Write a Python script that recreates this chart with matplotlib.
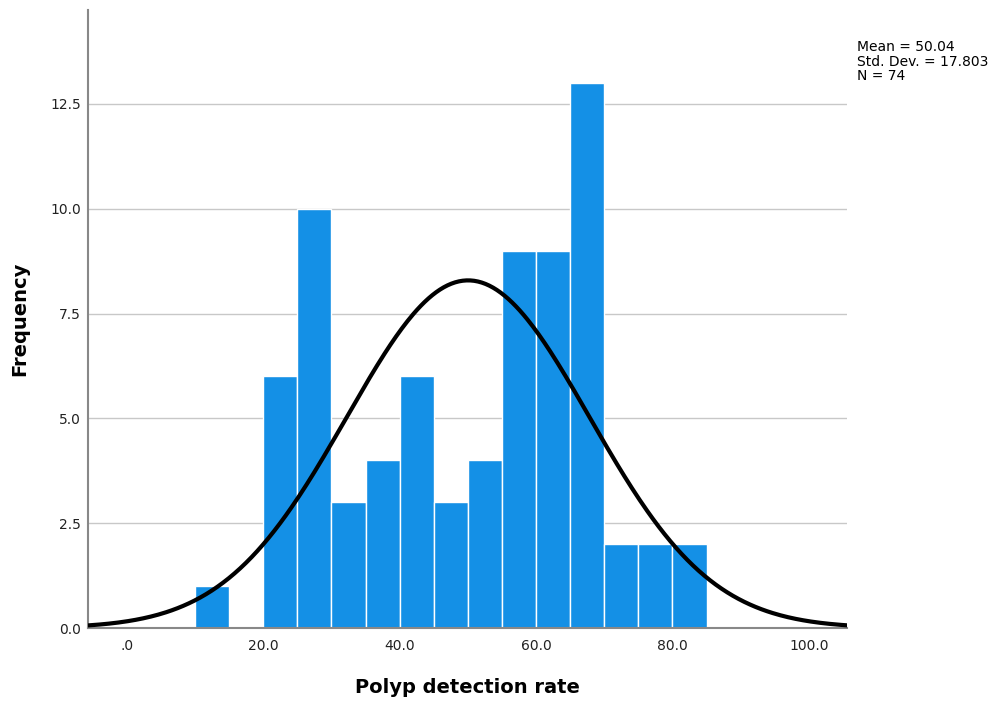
import matplotlib
matplotlib.use('Agg')
import matplotlib.pyplot as plt
import numpy as np

# Histogram data (bins of width 5)
bin_edges = [10, 15, 20, 25, 30, 35, 40, 45, 50, 55, 60, 65, 70, 75, 80, 85]
counts = [1, 0, 6, 10, 3, 4, 6, 3, 4, 9, 9, 13, 2, 2, 2]
mean = 50.04
std = 17.803
n = 74

plt.rcParams['font.family'] = ['DejaVu Sans']

fig = plt.figure(figsize=(9.93, 7.04), dpi=100)
ax = fig.add_axes([88 / 993, 1 - 628 / 704, (847 - 88) / 993, (628 - 10) / 704])

lefts = np.array(bin_edges[:-1])
widths = np.diff(bin_edges)
ax.bar(lefts, counts, width=widths, align='edge', color='#1490E6',
       edgecolor='white', linewidth=1.0, zorder=2)

# Normal curve scaled to counts
xs = np.linspace(-5.7, 105.6, 400)
bw = widths[0]
ys = n * bw * np.exp(-0.5 * ((xs - mean) / std) ** 2) / (std * np.sqrt(2 * np.pi))
ax.plot(xs, ys, color='black', linewidth=3, zorder=3)

ax.set_xlim(-5.7, 105.6)
ax.set_ylim(0, 14.74)
ax.set_xticks([0, 20, 40, 60, 80, 100])
ax.set_xticklabels(['.0', '20.0', '40.0', '60.0', '80.0', '100.0'])
ax.set_yticks([0, 2.5, 5, 7.5, 10, 12.5])
ax.set_yticklabels(['0.0', '2.5', '5.0', '7.5', '10.0', '12.5'])
ax.tick_params(length=0, labelsize=10, colors='#222222', pad=8)
ax.tick_params(axis='y', pad=5)

ax.yaxis.grid(True, color='#c8c8c8', linewidth=1)
ax.set_axisbelow(True)
for s in ['top', 'right']:
    ax.spines[s].set_visible(False)
for s in ['left', 'bottom']:
    ax.spines[s].set_color('#888888')
    ax.spines[s].set_linewidth(1.5)

ax.set_xlabel('Polyp detection rate', fontsize=14, fontweight='bold', labelpad=18)
ax.set_ylabel('Frequency', fontsize=14, fontweight='bold')
ax.yaxis.set_label_coords(-0.078, 0.5)

fig.text(857 / 993, 1 - 40 / 704, f'Mean = {mean:.2f}\nStd. Dev. = {std:.3f}\nN = {n}',
         fontsize=10, va='top', ha='left', linespacing=1.05)

fig.savefig('out.png', dpi=100, facecolor='white')
